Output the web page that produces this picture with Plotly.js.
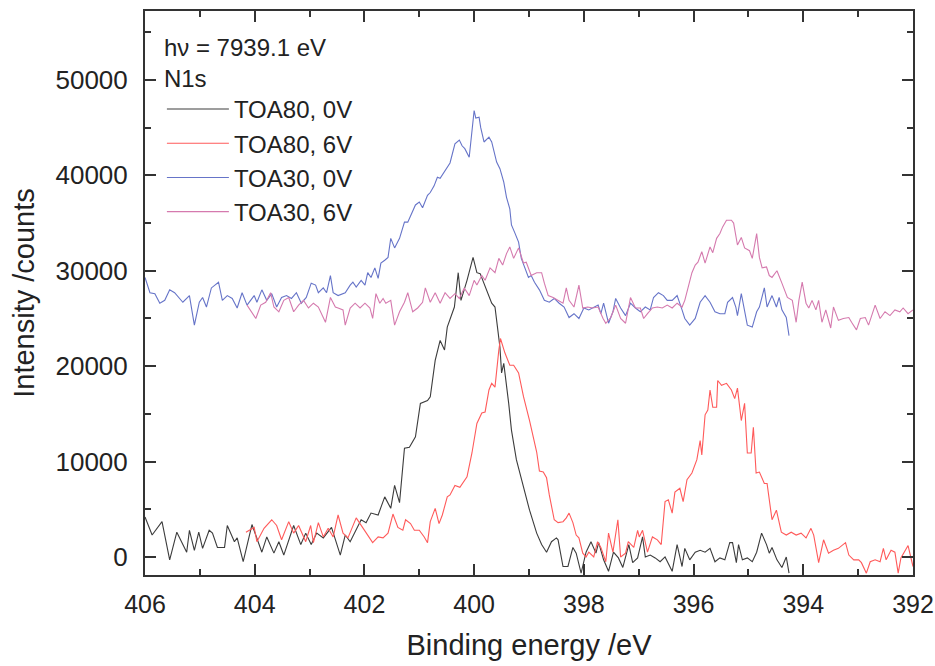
<!DOCTYPE html>
<html>
<head>
<meta charset="utf-8">
<script src="https://cdn.plot.ly/plotly-3.0.1.min.js"></script>
<style>html,body{margin:0;padding:0;background:#fff;}#chart{width:935px;height:666px;}</style>
</head>
<body>
<div id="chart"></div>
<script>
// Binding energy (eV) and intensity (counts)
var toa80_0V_be = [406.00,405.87,405.69,405.55,405.42,405.24,405.19,405.10,405.02,404.95,
404.83,404.77,404.68,404.55,404.50,404.37,404.32,404.21,404.05,403.87,
403.78,403.65,403.56,403.47,403.29,403.16,403.07,402.97,402.87,402.75,
402.60,402.44,402.35,402.26,402.06,401.97,401.88,401.75,401.63,401.52,
401.45,401.36,401.27,401.18,401.07,400.98,400.85,400.80,400.71,400.62,
400.54,400.49,400.36,400.29,400.24,400.13,400.02,399.95,399.89,399.77,
399.68,399.62,399.53,399.50,399.46,399.37,399.32,399.23,399.10,398.99,
398.86,398.77,398.68,398.59,398.50,398.47,398.38,398.29,398.20,398.14,
398.05,397.96,397.87,397.78,397.73,397.64,397.55,397.46,397.37,397.29,
397.18,397.11,397.02,396.93,396.88,396.79,396.70,396.61,396.52,396.39,
396.30,396.21,396.16,396.07,395.97,395.88,395.79,395.70,395.61,395.52,
395.43,395.34,395.29,395.22,395.18,395.11,395.02,394.93,394.85,394.76,
394.67,394.62,394.57,394.48,394.39,394.31,394.26];
var toa80_0V_counts = [4200,2300,3700,-300,2600,500,2800,700,2600,900,
2800,2500,1000,1000,3300,1600,2000,-500,3400,500,
2100,400,1600,200,3300,1300,2500,1300,2500,2000,
3100,200,2300,1600,3900,3600,4600,4400,6300,5100,
7500,5700,11400,11500,12600,16100,16400,16800,20600,22700,
21700,24100,26200,29800,26900,29000,31400,29800,29700,28000,
26600,26200,22000,19300,20300,16100,13300,10200,7300,4900,
2500,1300,500,1600,2000,1800,-1000,-1000,1000,400,
-1700,500,1600,400,1500,-300,-1500,500,-100,-1100,
1300,-600,-100,2100,0,200,-100,-500,0,-1500,
1300,-1000,900,-300,500,700,500,900,-500,-100,
-300,1500,1500,-600,1300,-300,-100,-500,500,2500,
1300,400,1000,-300,-1100,0,-1700];

var toa80_6V_be = [404.16,404.01,403.96,403.83,403.69,403.60,403.51,403.38,403.29,403.20,
403.07,402.98,402.93,402.84,402.75,402.66,402.57,402.48,402.39,402.30,
402.15,402.06,401.94,401.85,401.75,401.66,401.57,401.48,401.39,401.30,
401.25,401.16,401.09,401.00,400.91,400.85,400.80,400.71,400.64,400.58,
400.49,400.44,400.35,400.26,400.13,400.04,399.95,399.86,399.80,399.73,
399.68,399.62,399.55,399.52,399.44,399.35,399.28,399.19,399.10,398.99,
398.86,398.81,398.74,398.68,398.63,398.54,398.47,398.38,398.32,398.27,
398.20,398.14,398.09,398.02,397.96,397.91,397.82,397.75,397.69,397.60,
397.55,397.47,397.38,397.33,397.24,397.19,397.09,397.02,396.99,396.93,
396.84,396.75,396.66,396.59,396.52,396.46,396.39,396.34,396.25,396.19,
396.12,396.03,395.94,395.88,395.85,395.79,395.74,395.70,395.65,395.58,
395.56,395.49,395.40,395.31,395.25,395.20,395.13,395.07,395.02,394.95,
394.91,394.86,394.80,394.71,394.66,394.57,394.49,394.40,394.31,394.22,
394.13,394.04,393.95,393.86,393.81,393.72,393.63,393.54,393.45,393.36,
393.23,393.17,393.08,392.99,392.94,392.85,392.78,392.69,392.60,392.54,
392.49,392.40,392.33,392.27,392.22,392.09,392.00];
var toa80_6V_counts = [2600,3100,1600,3000,3900,3300,1800,3700,2500,3300,
1600,3300,1500,3600,2100,3000,2100,4400,2500,2000,
4100,3300,2300,1500,2100,2000,2500,4500,3100,2800,
3900,3500,2800,2800,2100,1500,3700,5100,3500,4400,
6300,6500,7500,7300,8400,10900,14000,15100,15200,17500,
18200,17800,21700,22900,21400,20100,20100,19300,16800,14300,
11000,9000,8900,8300,6500,3900,3600,3700,4100,4600,
3600,2300,2000,400,0,500,0,1600,1000,-500,
2500,500,3900,0,400,1600,1000,2800,2100,2800,
500,2100,1800,1300,5800,6000,4600,6800,7200,5800,
8100,8800,10200,12200,10700,14900,15400,17500,15700,15700,
18500,18000,18200,17500,16600,17700,14300,16100,10900,10900,
13600,8800,8900,7700,7700,3900,4900,2600,2300,2600,
2300,2500,2000,3000,2300,-600,1800,400,700,900,
1500,200,-300,-300,-600,-1700,-500,-300,-500,900,
-300,700,500,-1700,-100,1200,-1000];

var toa30_0V_be = [406.00,405.91,405.82,405.73,405.64,405.55,405.46,405.31,405.19,405.10,
405.01,404.95,404.88,404.79,404.66,404.59,404.50,404.41,404.32,404.23,
404.14,404.01,403.96,403.87,403.78,403.69,403.60,403.51,403.42,403.33,
403.24,403.15,403.06,402.97,402.89,402.84,402.75,402.69,402.62,402.57,
402.48,402.35,402.26,402.21,402.15,402.06,401.99,401.94,401.88,401.81,
401.75,401.70,401.63,401.57,401.52,401.45,401.36,401.27,401.21,401.16,
401.07,401.00,400.94,400.85,400.80,400.73,400.67,400.62,400.53,400.44,
400.35,400.27,400.22,400.17,400.09,400.00,399.97,399.91,399.88,399.82,
399.73,399.68,399.59,399.53,399.46,399.41,399.35,399.32,399.26,399.19,
399.14,399.08,399.01,398.96,398.90,398.81,398.72,398.63,398.54,398.45,
398.36,398.27,398.18,398.09,398.00,397.91,397.82,397.74,397.69,397.64,
397.55,397.47,397.42,397.33,397.24,397.15,397.06,396.97,396.88,396.79,
396.73,396.64,396.55,396.48,396.39,396.30,396.21,396.16,396.07,395.97,
395.88,395.79,395.70,395.61,395.52,395.43,395.38,395.29,395.23,395.20,
395.13,395.07,395.02,394.93,394.85,394.80,394.71,394.66,394.57,394.49,
394.44,394.39,394.31,394.26];
var toa30_0V_counts = [29300,27700,27600,26600,26900,28000,27700,26700,27400,24300,
26700,27200,26200,28200,28800,26900,27400,27100,26100,27700,
26400,27400,26700,28000,26900,27600,26200,27200,27400,27100,
27700,26600,27200,28700,28500,27700,28200,27700,29500,27700,
27400,27700,28500,28800,28300,29000,28500,29800,29300,30300,
29200,30800,31100,31400,33400,32400,33400,35100,35100,35800,
36900,37200,36600,37900,38200,38900,39800,39700,40500,41300,
43300,43700,43100,42800,41900,46800,46000,46100,45000,43500,
44000,43500,41400,40700,39300,37700,36500,34800,34000,33000,
31300,30300,29300,29500,28800,28000,26900,26700,27100,26600,
26200,25100,25500,25000,26100,25900,26200,26400,25500,26600,
24500,25700,27100,26100,25300,26600,26100,25700,26200,25900,
27200,27700,27400,26900,26900,27400,25900,25000,24300,25000,
26700,27400,26700,25700,25500,25500,26700,27200,26200,25300,
27600,25900,24300,24100,25700,26200,28200,26200,27400,26200,
27200,25900,25100,23200];

var toa30_6V_be = [404.14,403.98,403.89,403.80,403.71,403.65,403.56,403.47,403.38,403.29,
403.20,403.11,403.02,402.93,402.84,402.71,402.62,402.53,402.48,402.39,
402.35,402.26,402.17,402.08,401.99,401.90,401.85,401.79,401.72,401.66,
401.61,401.52,401.45,401.36,401.27,401.21,401.12,401.03,400.94,400.89,
400.80,400.71,400.62,400.53,400.44,400.35,400.27,400.18,400.09,400.00,
399.95,399.86,399.80,399.71,399.62,399.55,399.48,399.41,399.35,399.28,
399.19,399.10,399.05,398.96,398.86,398.77,398.72,398.65,398.56,398.47,
398.38,398.32,398.27,398.18,398.09,398.02,397.93,397.84,397.74,397.65,
397.60,397.51,397.42,397.33,397.24,397.15,397.06,396.97,396.91,396.84,
396.75,396.66,396.57,396.48,396.39,396.30,396.21,396.16,396.10,396.03,
395.97,395.92,395.85,395.79,395.70,395.65,395.58,395.52,395.47,395.40,
395.31,395.27,395.20,395.13,395.07,394.98,394.93,394.85,394.80,394.75,
394.67,394.62,394.57,394.48,394.39,394.29,394.20,394.13,394.08,394.02,
393.95,393.90,393.84,393.77,393.72,393.66,393.59,393.50,393.45,393.36,
393.27,393.17,393.12,393.03,392.96,392.87,392.81,392.69,392.60,392.51,
392.42,392.33,392.24,392.18,392.09,392.00];
var toa30_6V_counts = [26400,25000,26400,26700,27700,26200,25700,26900,27200,25700,
26400,26900,26100,26600,26200,24600,27200,26200,26100,25900,
24300,26100,26600,26100,26600,26100,25000,27600,26600,27100,
26600,26900,24300,25700,26700,27700,25700,26100,26700,28200,
26700,27700,26600,27700,27100,27600,27100,28200,27400,29000,
28500,29500,29000,30300,29800,31300,30600,31800,32500,31300,
32400,30800,30900,29500,29800,29800,28700,27400,27200,26900,
26600,28200,26900,26200,28500,26100,26200,26100,26200,25000,
24500,25100,26400,25000,24500,27200,26100,26100,25000,25500,
26100,26200,26100,26400,26100,26600,26200,26900,28300,29800,
30600,30900,32000,30800,32500,31900,33400,33900,34600,35300,
35300,35000,32700,33500,32400,32100,31300,33900,31400,30300,
30400,29500,29300,30000,28700,27200,26900,24600,26900,28800,
26600,26100,26900,25900,26900,24600,25900,24000,26200,24800,
25000,25100,24600,23800,25000,25100,24300,26400,25000,25700,
25300,25900,25700,26100,25500,25900];

var seriesNames = ['TOA80, 0V', 'TOA80, 6V', 'TOA30, 0V', 'TOA30, 6V'];
var legendHeader = 'h\u03bd = 7939.1 eV<br>N1s';
var xTitle = 'Binding energy /eV';
var yTitle = 'Intensity /counts';

var colors = ['#3c3c3c', '#ff5a5a', '#6674c8', '#d57aae'];
var xs = [toa80_0V_be, toa80_6V_be, toa30_0V_be, toa30_6V_be];
var ys = [toa80_0V_counts, toa80_6V_counts, toa30_0V_counts, toa30_6V_counts];

var traces = seriesNames.map(function (n, i) {
  return {x: xs[i], y: ys[i], name: n, type: 'scatter', mode: 'lines',
          line: {color: colors[i], width: 1.1}};
});

var fontFam = '"Liberation Sans", Arial, sans-serif';
var axCommon = {
  showline: true, linewidth: 2, linecolor: '#333', mirror: 'allticks',
  ticks: 'inside', ticklen: 11, tickwidth: 2, tickcolor: '#333',
  showgrid: false, zeroline: false,
  tickfont: {size: 26, color: '#222', family: fontFam}
};

var layout = {
  width: 935, height: 666,
  margin: {l: 145, r: 22, t: 11, b: 91},
  paper_bgcolor: '#fff', plot_bgcolor: '#fff',
  font: {family: fontFam, color: '#222'},
  showlegend: true,
  legend: {x: 0.022, y: 0.976, xanchor: 'left', yanchor: 'top',
           bgcolor: 'rgba(0,0,0,0)', font: {size: 24, color: '#222', family: fontFam},
           title: {text: legendHeader, font: {size: 24, color: '#222', family: fontFam}},
           itemwidth: 62, tracegroupgap: 0},
  xaxis: Object.assign({}, axCommon, {
    range: [406, 392], tick0: 392, dtick: 2, ticklabelstandoff: 6, tickformat: 'd',
    ticklabeloverflow: 'allow',
    tickfont: {size: 25, color: '#222', family: fontFam},
    minor: {dtick: 1, ticks: 'inside', ticklen: 6, tickwidth: 2, tickcolor: '#333'},
    title: {text: xTitle, font: {size: 29, color: '#222', family: fontFam}, standoff: 18}
  }),
  yaxis: Object.assign({}, axCommon, {
    range: [-1890, 57230], tick0: 0, dtick: 10000, tickformat: 'd',
    ticklabelstandoff: 10,
    minor: {dtick: 5000, ticks: 'inside', ticklen: 6, tickwidth: 2, tickcolor: '#333'},
    title: {text: yTitle, font: {size: 29, color: '#222', family: fontFam}, standoff: 12}
  })
};

Plotly.newPlot('chart', traces, layout, {staticPlot: true, displayModeBar: false});
</script>
</body>
</html>
